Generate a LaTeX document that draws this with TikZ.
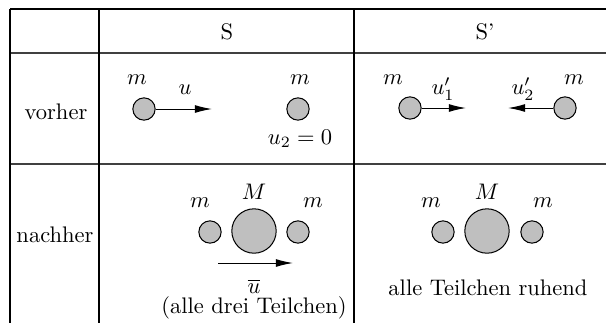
\documentclass[tikz,border=0pt]{standalone}
\usepackage{amsmath}
\usetikzlibrary{arrows.meta,positioning}
\tikzset{
  ball/.style={circle,draw,fill=gray!50,line width=0.45pt,inner sep=0pt,minimum size=9.9pt},
  bigball/.style={ball,minimum size=19.7pt},
  vel/.style={-{Latex[length=7.6pt,width=3.5pt]},line width=0.45pt},
  hline/.style={line width=0.5pt,black!75},
  vline/.style={line width=0.5pt}
}
\begin{document}
\begin{tikzpicture}[x=0.444pt,y=-0.444pt]
    \useasboundingbox (0,0) rectangle (606,323);
    % table
    \draw[vline] (10,9) -- (606,9);
    \foreach \y in {53,164}
      \draw[hline] (10,\y) -- (606,\y);
    \foreach \x in {10,99,354}
      \draw[vline] (\x,9) -- (\x,323);
    \node (hS) at (227,32) {S};
    \node (hSp) at (485,32) {S'};
    \node (rowA) at (56,112) {vorher};
    \node (rowB) at (55,235) {nachher};
    % vorher, S
    \node[ball] (a1) at (144,109) {};
    \node[ball] (a2) at (298,109) {};
    \coordinate (a1v) at (212,109);
    \draw[vel] (a1) -- (a1v);
    \node (ma1) at (137,80) {$m$};
    \node (ma2) at (300,80) {$m$};
    \node (ua1) at (185,90) {$u$};
    \node (ua2) at (300,139) {$u_2=0$};
    % vorher, S'
    \node[ball] (b1) at (410,108) {};
    \node[ball] (b2) at (565,108) {};
    \coordinate (b1v) at (466,108);
    \coordinate (b2v) at (508,108);
    \draw[vel] (b1) -- (b1v);
    \draw[vel] (b2) -- (b2v);
    \node (mb1) at (393,80) {$m$};
    \node (mb2) at (574,80) {$m$};
    \node (ub1) at (443,89) {$u'_1$};
    \node (ub2) at (523,89) {$u'_2$};
    % nachher, S
    \node[ball] (c1) at (210,232) {};
    \node[bigball] (cM) at (254,231) {};
    \node[ball] (c2) at (298,232) {};
    \node (mc1) at (200,203) {$m$};
    \node (mcM) at (254,192) {$M$};
    \node (mc2) at (313,203) {$m$};
    \coordinate (cv0) at (218,263);
    \coordinate (cv1) at (293,263);
    \draw[vel] (cv0) -- (cv1);
    \node (uc) at (254,286) {$\overline{u}$};
    \node (uct) at (254,308) {(alle drei Teilchen)};
    % nachher, S'
    \node[ball] (d1) at (443,232) {};
    \node[bigball] (dM) at (487,231) {};
    \node[ball] (d2) at (532,232) {};
    \node (md1) at (431,203) {$m$};
    \node (mdM) at (487,192) {$M$};
    \node (md2) at (543,203) {$m$};
    \node (udt) at (488,288) {alle Teilchen ruhend};
\end{tikzpicture}
\end{document}
